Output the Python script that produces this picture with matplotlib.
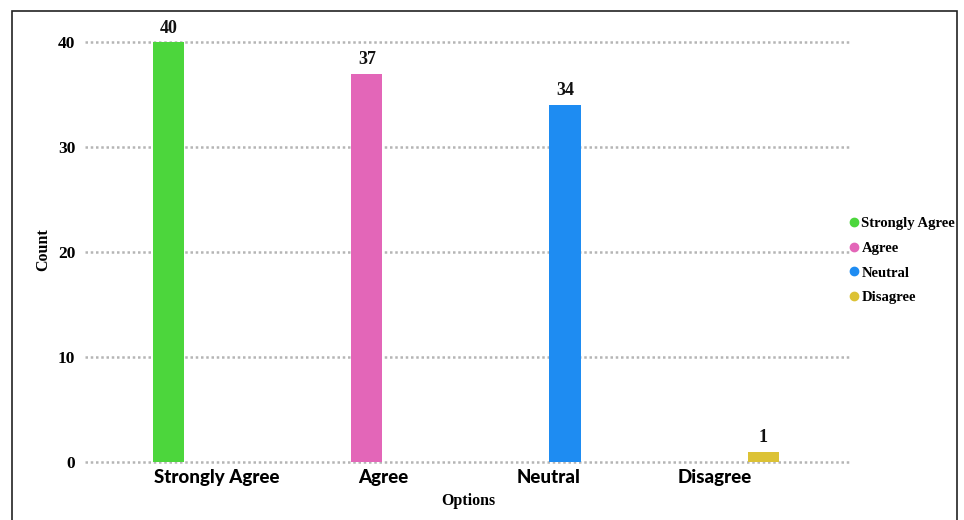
import matplotlib.pyplot as plt
from matplotlib.lines import Line2D
from matplotlib.patches import Rectangle

options = ["Strongly Agree", "Agree", "Neutral", "Disagree"]
counts = [40, 37, 34, 1]
colors = ["#4cd63c", "#e366b8", "#1e8cf2", "#dcc235"]
y_ticks = [0, 10, 20, 30, 40]

SERIF = "Liberation Serif"
SANS = "Lato"

fig = plt.figure(figsize=(9.64, 5.20), dpi=100)
ax = fig.add_axes([0.0882, 0.1115, 0.7935, 0.848])

# one hue per option, dodged like a grouped bar chart
slot = 0.194
for i, (opt, val, col) in enumerate(zip(options, counts, colors)):
    x = i + (i - 1.5) * slot
    bars = ax.bar(x, val, width=0.188, color=col, zorder=3, label=opt)
    ax.bar_label(bars, padding=4, fontsize=13, fontweight="bold",
                 family=SERIF, color="#111111")

ax.set_xlim(-0.795, 3.813)
ax.set_ylim(0, 42)
ax.set_xticks(range(len(options)))
ax.set_xticklabels(options, family=SANS, fontweight="black", fontsize=13.5)
ax.set_yticks(y_ticks)
ax.set_yticklabels([str(t) for t in y_ticks], family=SERIF,
                   fontweight="bold", fontsize=12.5)
ax.tick_params(length=0, pad=7)
ax.tick_params(axis="x", pad=5)
ax.yaxis.grid(True, linestyle=(0, (1, 1.1)), color="#b5b5b5",
              linewidth=1.8, zorder=0)
for gl in ax.yaxis.get_gridlines():
    gl.set_clip_on(False)
ax.set_axisbelow(True)
for s in ax.spines.values():
    s.set_visible(False)

fig.text(0.045, 0.52, "Count", rotation=90, ha="center", va="center",
         family=SERIF, fontweight="bold", fontsize=11.5)
fig.text(0.486, 0.037, "Options", ha="center", va="center",
         family=SERIF, fontweight="bold", fontsize=11.5)

handles = [Line2D([], [], marker="o", linestyle="", markersize=6,
                  markerfacecolor=c, markeredgecolor=c) for c in colors]
fig.legend(handles, options, loc="center left", bbox_to_anchor=(0.874, 0.499),
           frameon=False, handlelength=0.6, handletextpad=0.2,
           labelspacing=0.8, borderpad=0,
           prop={"family": SERIF, "weight": "bold", "size": 10.5})

# outer frame around the figure, open at the bottom edge
fig.patches.append(Rectangle((12 / 964, -0.05), (957 - 12) / 964,
                             1 - 11 / 520 + 0.05, transform=fig.transFigure,
                             fill=False, edgecolor="#222222", linewidth=1.2))

fig.savefig("out.png", dpi=100)
